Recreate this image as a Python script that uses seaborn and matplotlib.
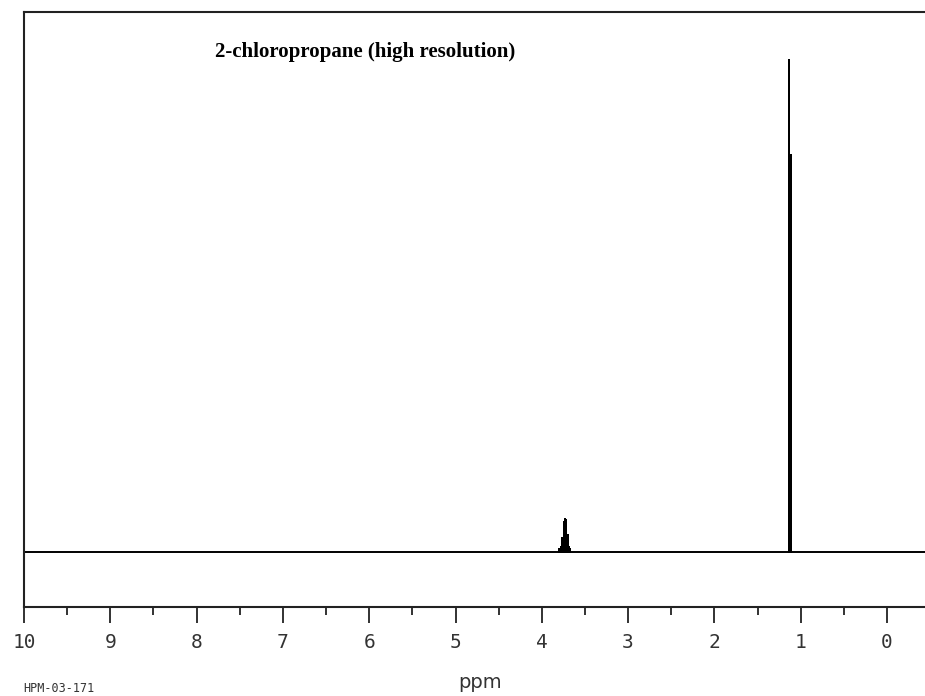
import numpy as np
import pandas as pd
import matplotlib
matplotlib.use("Agg")
import matplotlib.pyplot as plt
from matplotlib.ticker import MultipleLocator
import seaborn as sns

# stick spectrum (ppm, relative height)
septet_ppm = [3.80, 3.78, 3.765, 3.745, 3.73, 3.715, 3.70, 3.685, 3.67]
septet_height = [0.006, 0.010, 0.028, 0.060, 0.067, 0.065, 0.034, 0.010, 0.006]
doublet_ppm = [1.135, 1.112]
doublet_height = [1.0, 0.807]
baseline_ppm = [10.0, -0.6]

title = "2-chloropropane (high resolution)"
code = "HPM-03-171"
tick_labels = ["10", "9", "8", "7", "6", "5", "4", "3", "2", "1", "0"]

# build one trace: baseline with sticks going up and back down
peaks = sorted(zip(septet_ppm + doublet_ppm, septet_height + doublet_height), reverse=True)
xs = [baseline_ppm[0]]
ys = [0.0]
for p, h in peaks:
    xs += [p, p, p]
    ys += [0.0, h, 0.0]
xs.append(baseline_ppm[1])
ys.append(0.0)
df = pd.DataFrame({"ppm": xs, "intensity": ys})

sns.set_style("white")
plt.rcParams["font.family"] = ["DejaVu Sans Mono"]

fig = plt.figure(figsize=(9.25, 6.96), dpi=100)
px = 1 / 925
py = 1 / 696
ax = fig.add_axes([24 * px, 89 * py, 911 * px, 595 * py])

sns.lineplot(data=df, x="ppm", y="intensity", sort=False, estimator=None,
             color="black", linewidth=1.4, ax=ax)

ax.set_xlim(10, 10 - 911 / 86.3)
ax.set_ylim(-0.112, 1.098)
ax.xaxis.set_major_locator(MultipleLocator(1))
ax.xaxis.set_minor_locator(MultipleLocator(0.5))
ax.set_xticks(np.arange(10, -1, -1))
ax.set_xticklabels(tick_labels)
ax.set_yticks([])
ax.tick_params(axis="x", which="major", direction="out", length=11.5, width=1.3,
               color="#222222", labelsize=14, labelcolor="#333333", pad=7, bottom=True)
ax.tick_params(axis="x", which="minor", direction="out", length=5.8, width=1.3,
               color="#222222", bottom=True)
for side in ["left", "top", "bottom"]:
    ax.spines[side].set_color("#222222")
    ax.spines[side].set_linewidth(1.5)
ax.spines["right"].set_visible(False)
ax.set_xlabel("")
ax.set_ylabel("")

fig.text(0.395, 1 - 52 * py, title, ha="center", va="center", color="black",
         family="Liberation Serif", fontweight="bold", fontsize=15)
fig.text(480 * px, 1 - 682 * py, "ppm", ha="center", va="center",
         fontsize=14, color="#333333", family="DejaVu Sans")
fig.text(23 * px, 1 - 688 * py, code, ha="left", va="center",
         fontsize=8.5, color="#333333")

fig.savefig("out.png", dpi=100)
